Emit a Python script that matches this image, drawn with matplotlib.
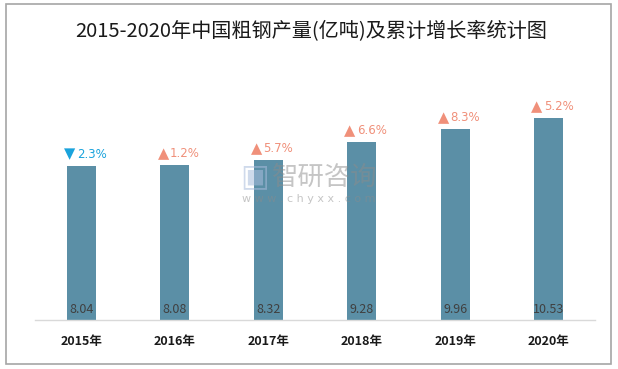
import matplotlib.pyplot as plt
from matplotlib.patches import Rectangle

plt.rcParams['font.family'] = ['Noto Sans CJK SC', 'DejaVu Sans']

years = ['2015年', '2016年', '2017年', '2018年', '2019年', '2020年']
output = [8.04, 8.08, 8.32, 9.28, 9.96, 10.53]
growth = [-2.3, 1.2, 5.7, 6.6, 8.3, 5.2]

bar_color = '#5b8fa6'
up_color = '#f0907a'
down_color = '#1aa3dc'

fig = plt.figure(figsize=(6.18, 3.69), dpi=100)
W, H = 618, 369

# outer frame
fig.patches.append(Rectangle((6 / W, 1 - 364 / H), 605 / W, 360.5 / H,
                             transform=fig.transFigure, fill=False,
                             edgecolor='#a6a6a6', linewidth=1.2))

fig.text(311 / W, 1 - 31 / H, '2015-2020年中国粗钢产量(亿吨)及累计增长率统计图',
         ha='center', va='center', fontsize=14.5, color='#1a1a1a')

# plot area: baseline at y=320px, 19.2 px per unit
ymax = 12
left, right = 34.8, 595.2
ax = fig.add_axes([left / W, 1 - 320 / H, (right - left) / W, ymax * 19.2 / H])
x = range(len(years))
ax.bar(x, output, width=0.31, color=bar_color, zorder=2)
ax.set_xlim(-0.5, 5.5)
ax.set_ylim(0, ymax)
for s in ['top', 'right', 'left']:
    ax.spines[s].set_visible(False)
ax.spines['bottom'].set_color('#d9d9d9')
ax.spines['bottom'].set_linewidth(1)
ax.set_yticks([])
ax.set_xticks(list(x))
ax.set_xticklabels(years, fontsize=9, fontweight='bold', color='#1a1a1a')
ax.tick_params(axis='x', length=0, pad=11)

for i, (v, g) in enumerate(zip(output, growth)):
    ax.text(i, 0.55, f'{v:.2f}', ha='center', va='center', fontsize=9,
            color='#404040', zorder=3)
    if g < 0:
        mark, col = '▼', down_color
    else:
        mark, col = '▲', up_color
    ax.annotate(mark, (i, v + 0.6), xytext=(-8.5, 0), textcoords='offset points',
                ha='center', va='center', fontsize=10.5, color=col,
                family=['DejaVu Sans'], zorder=3)
    ax.annotate(f'{abs(g):.1f}%', (i, v + 0.6), xytext=(-3.5, 0),
                textcoords='offset points', ha='left', va='center',
                fontsize=8.5, color=col, family=['DejaVu Sans'], zorder=3)

# watermark
fig.text(255 / W, 1 - 177 / H, '▣', ha='center', va='center', fontsize=22,
         color='#a9bcdc', alpha=0.55, family=['DejaVu Sans'])
fig.text(325 / W, 1 - 177 / H, '智研咨询', ha='center', va='center', fontsize=19,
         color='#8c8c8c', alpha=0.5)
fig.text(309 / W, 1 - 199 / H, 'w w w . c h y x x . c o m', ha='center', va='center',
         fontsize=8, color='#8c8c8c', alpha=0.5, family=['DejaVu Sans'])

fig.savefig('out.png', dpi=100)
